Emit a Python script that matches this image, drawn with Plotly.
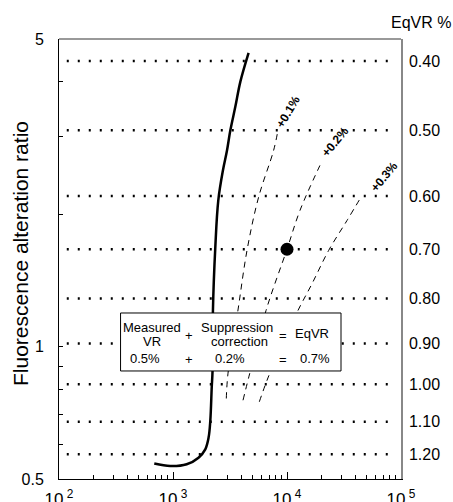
import plotly.graph_objects as go

# ---- data ----
measured_x = [685, 946, 1318, 1674, 1919, 2052, 2124, 2186, 2223, 2240, 2350, 2496, 2746, 2976, 3184, 3524, 3899, 4603]
measured_y = [0.542, 0.535, 0.540, 0.559, 0.584, 0.621, 0.678, 0.807, 0.881, 1.207, 1.68, 2.15, 2.52, 2.79, 3.10, 3.51, 4.0, 4.65]

corr01_x = [2935, 3034, 3690, 4457, 5636, 7627, 8270]
corr01_y = [0.762, 0.867, 1.196, 1.653, 2.186, 2.79, 3.07]

corr02_x = [4113, 4699, 6545, 10000, 13000, 19450]
corr02_y = [0.755, 0.867, 1.207, 1.664, 2.039, 2.58]

corr03_x = [5717, 7033, 12250, 16570, 23170, 33590, 45500]
corr03_y = [0.749, 0.867, 1.196, 1.389, 1.653, 1.934, 2.205]

point_x = [10000]
point_y = [1.664]

eqvr_labels = ["0.40", "0.50", "0.60", "0.70", "0.80", "0.90", "1.00", "1.10", "1.20"]
eqvr_ratio = [4.456, 3.10, 2.198, 1.664, 1.286, 1.016, 0.821, 0.675, 0.569]
gridline_x = [117, 80000]

x_ticks = [100, 1000, 10000, 100000]
x_ticktext = ["10<sup> 2</sup>", "10<sup> 3</sup>", "10<sup> 4</sup>", "10<sup> 5</sup>"]
x_minor = [m * 10 ** e for e in (2, 3, 4) for m in range(2, 10)]
y_ticks = [0.5, 1, 5]
y_ticktext = ["0.5", "1", "5"]
y_minor = [0.6, 0.7, 0.8, 0.9, 2, 3, 4]

FONT = "Liberation Sans, Arial, sans-serif"
Y_RANGE = [-0.30103, 0.69897]

fig = go.Figure()

# dotted EqVR lines
for r in eqvr_ratio:
    fig.add_trace(go.Scatter(x=gridline_x, y=[r, r], mode="lines",
                             line=dict(color="black", width=2.5, dash="2px,9px"),
                             showlegend=False, hoverinfo="skip"))

for xs, ys in [(corr01_x, corr01_y), (corr02_x, corr02_y), (corr03_x, corr03_y)]:
    fig.add_trace(go.Scatter(x=xs, y=ys, mode="lines", line_shape="spline",
                             line=dict(color="black", width=1, dash="6px,5px"),
                             showlegend=False))

fig.add_trace(go.Scatter(x=measured_x, y=measured_y, mode="lines", line_shape="spline",
                         line=dict(color="black", width=2.5), showlegend=False))

fig.add_trace(go.Scatter(x=point_x, y=point_y, mode="markers",
                         marker=dict(color="black", size=13), showlegend=False))

# right axis dummy trace
fig.add_trace(go.Scatter(x=[1000], y=[1], yaxis="y2", mode="markers",
                         marker=dict(opacity=0), showlegend=False, hoverinfo="skip"))

fig.update_layout(
    width=453, height=502,
    margin=dict(l=59, r=52, t=39, b=23),
    paper_bgcolor="white", plot_bgcolor="white",
    font=dict(family=FONT, color="black", size=16),
    xaxis=dict(type="log", range=[2, 5], tickvals=x_ticks, ticktext=x_ticktext,
               ticks="inside", ticklen=7, tickcolor="black", showgrid=False,
               showline=True, linecolor="black", linewidth=1, zeroline=False,
               tickfont=dict(size=17), ticklabelstandoff=5, automargin=False,
               minor=dict(tickvals=x_minor, ticks="inside", ticklen=4, tickcolor="black", showgrid=False)),
    yaxis=dict(type="log", range=Y_RANGE, tickvals=y_ticks, ticktext=y_ticktext,
               ticks="inside", ticklen=4, tickcolor="black", showgrid=False,
               showline=True, linecolor="black", linewidth=1, zeroline=False,
               tickfont=dict(size=16), ticklabelstandoff=11, automargin=False,
               minor=dict(tickvals=y_minor, ticks="inside", ticklen=4, tickcolor="black", showgrid=False)),
    yaxis2=dict(type="log", overlaying="y", side="right", range=Y_RANGE,
                tickvals=eqvr_ratio, ticktext=eqvr_labels, ticks="", showgrid=False,
                showline=True, linecolor="#888888", linewidth=1.5, zeroline=False,
                tickfont=dict(size=16), ticklabelstandoff=3, automargin=False),
    shapes=[
        dict(type="line", xref="paper", yref="paper", x0=0, x1=1, y0=1, y1=1,
             line=dict(color="#777777", width=1.5)),
        dict(type="rect", xref="paper", yref="paper", x0=0.180, x1=0.8246, y0=0.2455, y1=0.3773,
             fillcolor="white", line=dict(color="black", width=1), layer="above"),
    ],
)

ann = []
def A(text, x, y, size=12, angle=0, bold=False, xanchor="center"):
    ann.append(dict(text=("<b>%s</b>" % text) if bold else text, x=x, y=y, xref="paper", yref="paper",
                    showarrow=False, textangle=angle, xanchor=xanchor, yanchor="middle",
                    font=dict(size=size, family=FONT, color="black")))

def px2paper(px, py):
    return (px - 59) / 342.0, (479 - py) / 440.0

for t, (px, py), ang in [("+0.1%", (288, 112), -59), ("+0.2%", (335, 142), -50), ("+0.3%", (384, 177), -50)]:
    x, y = px2paper(px, py)
    A(t, x, y, size=12, angle=ang, bold=True)

for t, (px, py) in [("Measured", (151.7, 327)), ("VR", (151.7, 341.7)), ("0.5%", (144.7, 358)),
                    ("+", (189.3, 335)), ("+", (189.3, 359)),
                    ("Suppression", (237, 328)), ("correction", (239.5, 341.7)), ("0.2%", (230, 358)),
                    ("=", (282.7, 335)), ("=", (282.7, 359)),
                    ("EqVR", (312, 333)), ("0.7%", (314.7, 358))]:
    x, y = px2paper(px, py)
    A(t, x, y, size=13)

x, y = px2paper(421, 23)
A("EqVR %", x, y, size=16)

x, y = px2paper(20, 254)
A("Fluorescence alteration ratio", x, y, size=21, angle=-90)

fig.update_layout(annotations=ann)

fig.write_html("out.html")
